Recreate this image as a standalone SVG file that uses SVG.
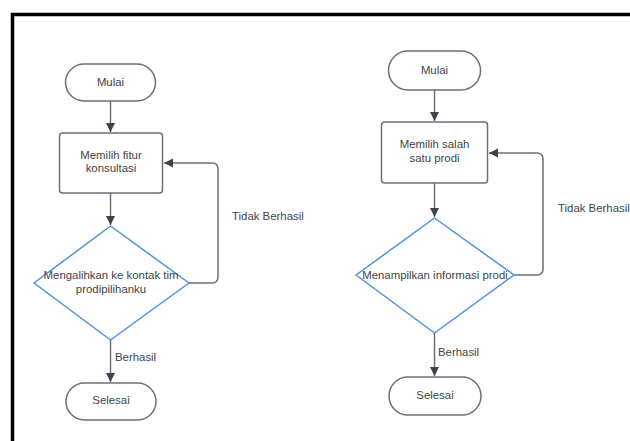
<svg xmlns="http://www.w3.org/2000/svg" width="630" height="441" viewBox="0 0 630 441">
  <defs>
    <marker id="arrow" markerWidth="10" markerHeight="10" refX="9" refY="5" orient="auto" markerUnits="userSpaceOnUse">
      <path d="M0,0.5 L9,5 L0,9.5 Z" fill="#3d434c"/>
    </marker>
    <style>
      .term { fill: #ffffff; stroke: #6b7079; stroke-width: 1.5; }
      .proc { fill: #ffffff; stroke: #6b7079; stroke-width: 1.5; }
      .dec { fill: #ffffff; stroke: #4a90e2; stroke-width: 1.5; }
      .conn { fill: none; stroke: #6b7079; stroke-width: 1.5; }
      .lbl { font-family: "Liberation Sans", Arial, sans-serif; font-size: 11.4px; fill: #40444a; }
      .c { text-anchor: middle; }
    </style>
  </defs>

  <rect x="0" y="0" width="630" height="441" fill="#ffffff"/>
  <!-- outer frame -->
  <rect x="12.5" y="14.5" width="640" height="450" fill="none" stroke="#000000" stroke-width="3.5"/>

  <!-- connectors -->
  <g id="connectors">
    <path class="conn" d="M110.5,101 L110.5,132" marker-end="url(#arrow)"/>
    <path class="conn" d="M110.5,193 L110.5,225" marker-end="url(#arrow)"/>
    <path class="conn" d="M189,283 L212,283 Q218,283 218,277 L218,169 Q218,163 212,163 L164,163" marker-end="url(#arrow)"/>
    <path class="conn" d="M110.5,340 L110.5,382" marker-end="url(#arrow)"/>
    <text class="lbl" x="232" y="220">Tidak Berhasil</text>
    <text class="lbl" x="115" y="361">Berhasil</text>

    <path class="conn" d="M434.5,90 L434.5,121" marker-end="url(#arrow)"/>
    <path class="conn" d="M434.5,183 L434.5,217" marker-end="url(#arrow)"/>
    <path class="conn" d="M514,275 L537,275 Q543,275 543,269 L543,159 Q543,153 537,153 L489,153" marker-end="url(#arrow)"/>
    <path class="conn" d="M434.5,333 L434.5,376" marker-end="url(#arrow)"/>
    <text class="lbl" x="558" y="212">Tidak Berhasil</text>
    <text class="lbl" x="438" y="356">Berhasil</text>
  </g>

  <!-- left flow -->
  <g id="mulai1">
    <rect class="term" x="65.5" y="64" width="90" height="37" rx="18.5"/>
    <text class="lbl c" x="110.5" y="86">Mulai</text>
  </g>
  <g id="pilih-fitur">
    <rect class="proc" x="59.5" y="133" width="103" height="60" rx="3"/>
    <text class="lbl c" x="111" y="159">Memilih fitur</text>
    <text class="lbl c" x="111" y="172">konsultasi</text>
  </g>
  <g id="alihkan">
    <path class="dec" d="M110.5,226 L189,283 L110.5,340 L34,283 Z" stroke-linejoin="round"/>
    <text class="lbl c" x="111" y="279">Mengalihkan ke kontak tim</text>
    <text class="lbl c" x="111" y="293">prodipilihanku</text>
  </g>
  <g id="selesai1">
    <rect class="term" x="66" y="383" width="90" height="37" rx="18.5"/>
    <text class="lbl c" x="111" y="404">Selesai</text>
  </g>

  <!-- right flow -->
  <g id="mulai2">
    <rect class="term" x="388.5" y="51" width="92" height="39" rx="19.5"/>
    <text class="lbl c" x="434.5" y="74">Mulai</text>
  </g>
  <g id="pilih-prodi">
    <rect class="proc" x="381.5" y="122" width="106" height="61" rx="3"/>
    <text class="lbl c" x="434.5" y="148">Memilih salah</text>
    <text class="lbl c" x="434.5" y="162">satu prodi</text>
  </g>
  <g id="tampilkan">
    <path class="dec" d="M434.5,218 L514,275 L434.5,333 L356,275 Z" stroke-linejoin="round"/>
    <text class="lbl c" x="435" y="279">Menampilkan informasi prodi</text>
  </g>
  <g id="selesai2">
    <rect class="term" x="389" y="377" width="92" height="38" rx="19"/>
    <text class="lbl c" x="435" y="399">Selesai</text>
  </g>
</svg>
